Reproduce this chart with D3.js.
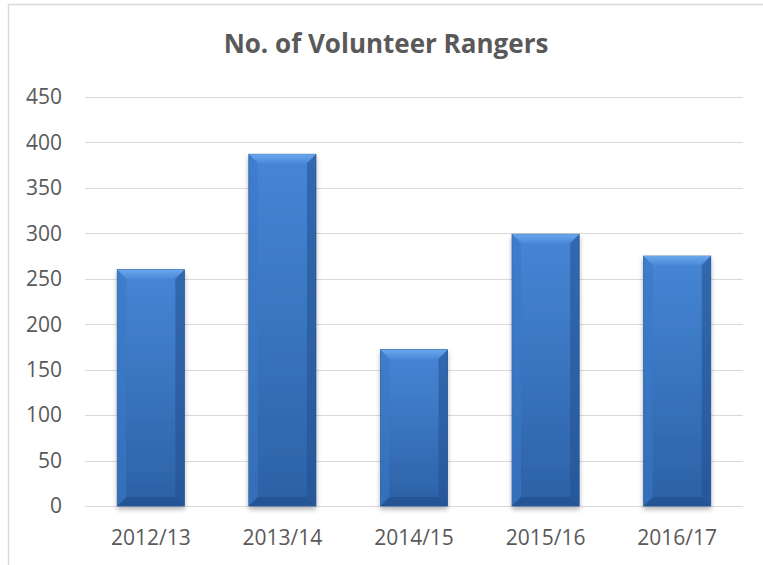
<!DOCTYPE html>
<html><head><meta charset="utf-8">
<script src="https://cdn.jsdelivr.net/npm/d3@7"></script>
<style>html,body{margin:0;padding:0;background:#fff;}svg{display:block;}</style>
</head><body>
<svg id="c" width="763" height="565"></svg>
<script>
const categories = ["2012/13","2013/14","2014/15","2015/16","2016/17"];
const values = [260, 387, 172, 299, 275];
const yTicks = [0,50,100,150,200,250,300,350,400,450];
const title = "No. of Volunteer Rangers";

const svg = d3.select("#c");
const defs = svg.append("defs");
const g1 = defs.append("linearGradient").attr("id","barGrad").attr("x1",0).attr("y1",0).attr("x2",0).attr("y2",1);
g1.append("stop").attr("offset","0%").attr("stop-color","#4686d6");
g1.append("stop").attr("offset","100%").attr("stop-color","#2c61a6");
const g2 = defs.append("linearGradient").attr("id","topGrad").attr("x1",0).attr("y1",0).attr("x2",0).attr("y2",1);
g2.append("stop").attr("offset","0%").attr("stop-color","#6aa7ec");
g2.append("stop").attr("offset","100%").attr("stop-color","#4a8ad9");
const f = defs.append("filter").attr("id","sh").attr("x","-20%").attr("y","-5%").attr("width","140%").attr("height","115%");
f.append("feGaussianBlur").attr("in","SourceAlpha").attr("stdDeviation",2.5);
f.append("feOffset").attr("dx",0).attr("dy",3).attr("result","b");
f.append("feComponentTransfer").append("feFuncA").attr("type","linear").attr("slope",0.3);
const fm = f.append("feMerge"); fm.append("feMergeNode"); fm.append("feMergeNode").attr("in","SourceGraphic");

// frame
svg.append("rect").attr("x",8.5).attr("y",4.5).attr("width",800).attr("height",600)
  .attr("fill","none").attr("stroke","#d9d9d9").attr("stroke-width",1.5);

const x = d3.scaleBand().domain(categories).range([85,743]).paddingInner(0.49).paddingOuter(0.245);
const y = d3.scaleLinear().domain([0,450]).range([506,97]);

// gridlines
svg.append("g").selectAll("line").data(yTicks).join("line")
  .attr("x1",85).attr("x2",743).attr("y1",d=>Math.round(y(d))+0.5).attr("y2",d=>Math.round(y(d))+0.5)
  .attr("stroke","#d9d9d9").attr("stroke-width",1);

// y labels
svg.append("g").selectAll("text").data(yTicks).join("text")
  .attr("x",62).attr("y",d=>y(d)).attr("dy","0.35em").attr("text-anchor","end")
  .attr("font-family","'Open Sans', sans-serif").attr("font-size",21).attr("fill","#595959").text(d=>d);

// x labels
svg.append("g").selectAll("text").data(categories).join("text")
  .attr("x",d=>x(d)+x.bandwidth()/2).attr("y",545).attr("text-anchor","middle")
  .attr("font-family","'Open Sans', sans-serif").attr("font-size",21).attr("fill","#595959").text(d=>d);

// bars
const bars = svg.append("g").selectAll("g").data(categories.map((c,i)=>({c,v:values[i]}))).join("g");
bars.append("rect").attr("x",d=>x(d.c)).attr("y",d=>y(d.v)).attr("width",x.bandwidth())
  .attr("height",d=>y(0)-y(d.v)).attr("fill","url(#barGrad)").attr("stroke","#2a5a9a").attr("stroke-width",0.8)
  .attr("filter","url(#sh)");
const b = 9;
// top bevel
bars.append("polygon").attr("points",d=>{
  const x0=x(d.c), x1=x0+x.bandwidth(), t=y(d.v);
  return `${x0},${t} ${x1},${t} ${x1-b},${t+b} ${x0+b},${t+b}`;}).attr("fill","url(#topGrad)");
// left bevel
bars.append("polygon").attr("points",d=>{
  const x0=x(d.c), t=y(d.v), bt=y(0);
  return `${x0},${t} ${x0+b},${t+b} ${x0+b},${bt-b} ${x0},${bt}`;}).attr("fill","#3b78c6").attr("opacity",0.6);
// right bevel
bars.append("polygon").attr("points",d=>{
  const x1=x(d.c)+x.bandwidth(), t=y(d.v), bt=y(0);
  return `${x1},${t} ${x1-b},${t+b} ${x1-b},${bt-b} ${x1},${bt}`;}).attr("fill","#22518f").attr("opacity",0.55);
// bottom bevel
bars.append("polygon").attr("points",d=>{
  const x0=x(d.c), x1=x0+x.bandwidth(), bt=y(0);
  return `${x0},${bt} ${x1},${bt} ${x1-b},${bt-b} ${x0+b},${bt-b}`;}).attr("fill","#1f4a85").attr("opacity",0.55);

svg.append("text").attr("x",386).attr("y",53).attr("text-anchor","middle")
  .attr("font-family","'Open Sans', sans-serif").attr("font-weight","bold").attr("font-size",26)
  .attr("fill","#595959").text(title);
</script>
</body></html>
